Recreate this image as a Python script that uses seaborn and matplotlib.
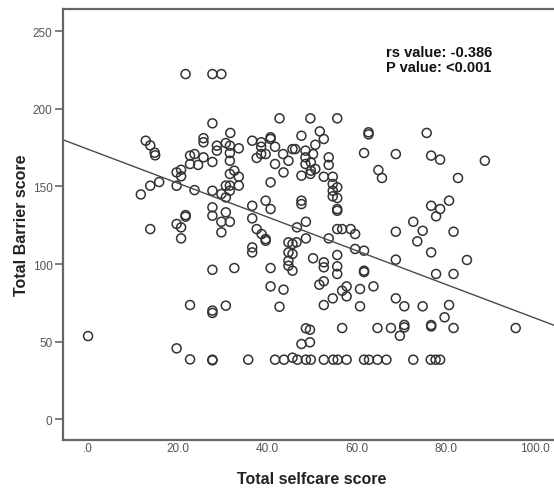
import matplotlib
matplotlib.use('Agg')
import matplotlib.pyplot as plt
import seaborn as sns
import pandas as pd

# 读入数据
selfcare = [
    0.0, 11.8, 12.9, 13.9, 14.9, 15.0, 13.9, 15.9, 13.9, 19.8, 20.8, 20.8, 19.8, 19.8, 20.8, 20.8,
    19.8, 21.8, 21.8, 21.8, 22.8, 23.8, 22.8, 24.6, 23.8, 22.8, 22.8,
    25.8, 25.8, 25.8, 27.8, 29.8, 27.8, 31.8, 28.8, 28.8, 30.8, 31.7, 31.7, 33.7, 27.8, 31.7,
    31.7, 32.7, 33.7, 30.8, 31.7, 33.7, 36.7, 38.7, 38.7, 40.8, 40.8, 41.8, 38.7, 39.7, 37.7,
    41.8, 40.8, 27.8, 29.8, 30.8, 31.7, 27.8, 30.8, 36.7, 39.7, 40.8, 27.8, 29.8, 31.7, 29.8,
    36.7, 37.7, 38.8, 39.7, 39.7, 36.7, 36.7, 27.8, 32.7, 40.8, 40.8, 27.8, 27.8, 30.8, 27.8,
    27.8, 35.8,
    42.8, 49.7, 55.7, 47.7, 51.8, 52.7, 50.8, 45.7, 46.3, 48.6, 48.6, 48.6, 50.3, 43.6, 44.8,
    43.7, 47.7, 49.7, 49.8, 49.8, 50.8, 53.8, 53.8, 52.7, 54.7, 54.7, 55.7, 54.7, 54.7, 55.7,
    55.7, 55.7, 47.7, 47.7, 48.7, 46.7, 48.7, 44.8, 45.7, 46.6, 44.8, 45.7, 44.8, 44.8, 45.7,
    50.3, 42.8, 43.7, 48.7, 49.6, 47.7, 49.6, 55.7, 56.8, 58.7, 59.7, 53.8, 59.7, 61.7, 55.7,
    52.7, 52.7, 55.7, 55.7, 61.7, 61.7, 51.7, 52.7, 56.8, 57.8, 57.8, 54.7, 52.7, 60.8, 60.8,
    63.8, 56.8,
    41.8, 43.8, 45.7, 46.8, 48.7, 49.8, 52.7, 54.8, 55.8, 57.8, 61.7, 62.8, 64.7, 66.7, 72.7,
    76.6, 77.7, 78.7,
    62.7, 62.7, 61.7, 68.8, 64.9, 65.7, 75.7, 76.7, 78.7, 88.7, 82.7, 80.7, 76.7, 78.7, 77.8,
    68.8, 72.7, 74.8, 73.6, 81.7, 68.8, 76.7, 84.7, 77.8, 81.7, 68.8, 70.7, 74.8, 80.7, 79.7,
    76.7, 76.7, 81.7, 95.6, 64.7, 67.7, 70.7, 70.7, 69.7,
]
barrier = [
    53.6, 144.8, 179.4, 176.4, 171.7, 170.0, 150.4, 152.8, 122.5, 159.0, 160.7, 156.5, 150.4, 125.8, 123.6, 116.5,
    45.7, 222.3, 131.5, 130.5, 169.8, 170.8, 164.4, 163.8, 147.6, 73.6, 38.6,
    181.0, 178.4, 168.7, 222.3, 222.3, 190.6, 184.4, 176.2, 173.0, 177.9, 176.2, 171.5, 174.5, 165.7, 166.5,
    158.0, 160.1, 156.2, 150.5, 150.5, 150.5, 179.4, 178.4, 175.5, 181.6, 180.5, 175.5, 170.8, 170.8, 168.3,
    164.4, 152.6, 147.2, 145.1, 142.9, 147.2, 136.5, 133.3, 137.5, 140.8, 135.4, 131.1, 127.2, 127.2, 120.4,
    129.4, 122.5, 119.3, 116.1, 115.0, 110.7, 107.5, 96.3, 97.4, 97.4, 85.6, 70.0, 68.5, 73.2, 38.4,
    38.0, 38.4,
    193.8, 193.8, 193.8, 182.6, 185.4, 180.5, 176.8, 174.0, 174.0, 173.0, 168.7, 164.4, 170.8, 170.8, 166.5,
    159.0, 156.9, 158.0, 165.5, 160.1, 161.2, 168.7, 163.8, 156.2, 156.2, 151.5, 149.4, 147.2, 143.6, 142.5,
    135.4, 134.3, 140.8, 138.6, 127.2, 123.6, 116.5, 114.0, 112.9, 114.0, 107.5, 106.5, 102.1, 98.9, 95.7,
    103.7, 72.5, 83.5, 58.6, 57.7, 48.5, 49.6, 122.5, 122.5, 122.5, 119.3, 116.5, 109.7, 108.6, 105.8,
    101.1, 97.9, 98.5, 93.6, 95.7, 94.8, 86.7, 88.9, 82.8, 85.6, 79.2, 77.9, 73.6, 83.9, 72.8,
    85.6, 58.8,
    38.4, 38.4, 39.7, 38.4, 38.4, 38.4, 38.4, 38.4, 38.4, 38.4, 38.4, 38.4, 38.4, 38.4, 38.4,
    38.4, 38.4, 38.4,
    184.8, 183.5, 171.5, 170.8, 160.5, 155.4, 184.4, 169.8, 167.2, 166.5, 155.4, 140.8, 137.5, 135.4, 130.7,
    120.8, 127.2, 121.4, 114.6, 120.8, 102.8, 107.5, 102.6, 93.6, 93.6, 77.9, 72.8, 72.8, 73.6, 65.7,
    60.7, 59.8, 58.8, 58.8, 58.8, 58.8, 60.8, 59.2, 53.8,
]

# fit line as drawn in the picture (intercept, slope)
fit_intercept = 173.9
fit_slope = -1.088

x_ticks = [0, 20, 40, 60, 80, 100]
x_tick_labels = ['.0', '20.0', '40.0', '60.0', '80.0', '100.0']
y_ticks = [0, 50, 100, 150, 200, 250]
stat_text = 'rs value: -0.386\nP value: <0.001'

df = pd.DataFrame({'Total selfcare score': selfcare, 'Total Barrier score': barrier})

sns.set_style("white")
plt.rcParams['font.family'] = ['Liberation Sans', 'DejaVu Sans']

fig = plt.figure(figsize=(5.54, 4.89), dpi=100)
ax = fig.add_axes([63 / 554, 1 - 441 / 489, (560 - 63) / 554, (441 - 10) / 489])

sns.regplot(ax=ax, data=df, x='Total selfcare score', y='Total Barrier score', fit_reg=False,
            scatter_kws={'s': 42, 'facecolors': 'none', 'edgecolors': '#333333', 'linewidths': 1.1, 'alpha': 1})
ax.axline((0, fit_intercept), slope=fit_slope, color='#4a4a4a', linewidth=1.0)

ax.set_xlim(-5.6, 105.5)
ax.set_ylim(-13.3, 264.2)

ax.set_xticks(x_ticks)
ax.set_xticklabels(x_tick_labels)
ax.set_yticks(y_ticks)
ax.tick_params(axis='y', direction='out', length=6, width=1.2, colors='#666666', pad=1.5,
               labelsize=8.5, labelcolor='#555555', left=True)
ax.tick_params(axis='x', length=0, pad=1.5, labelsize=8.5, labelcolor='#555555', bottom=True)
for s in ax.spines.values():
    s.set_color('#666666')
    s.set_linewidth(1.6)

ax.set_xlabel('Total selfcare score', fontsize=11.5, fontweight='bold', color='#222222', labelpad=12)
ax.set_ylabel('Total Barrier score', fontsize=11.5, fontweight='bold', color='#222222', labelpad=3)

ax.text(66.6, 241, stat_text, fontsize=10.5, fontweight='bold', color='#111111',
        va='top', ha='left', linespacing=1.05)

plt.savefig('out.png', dpi=100)
